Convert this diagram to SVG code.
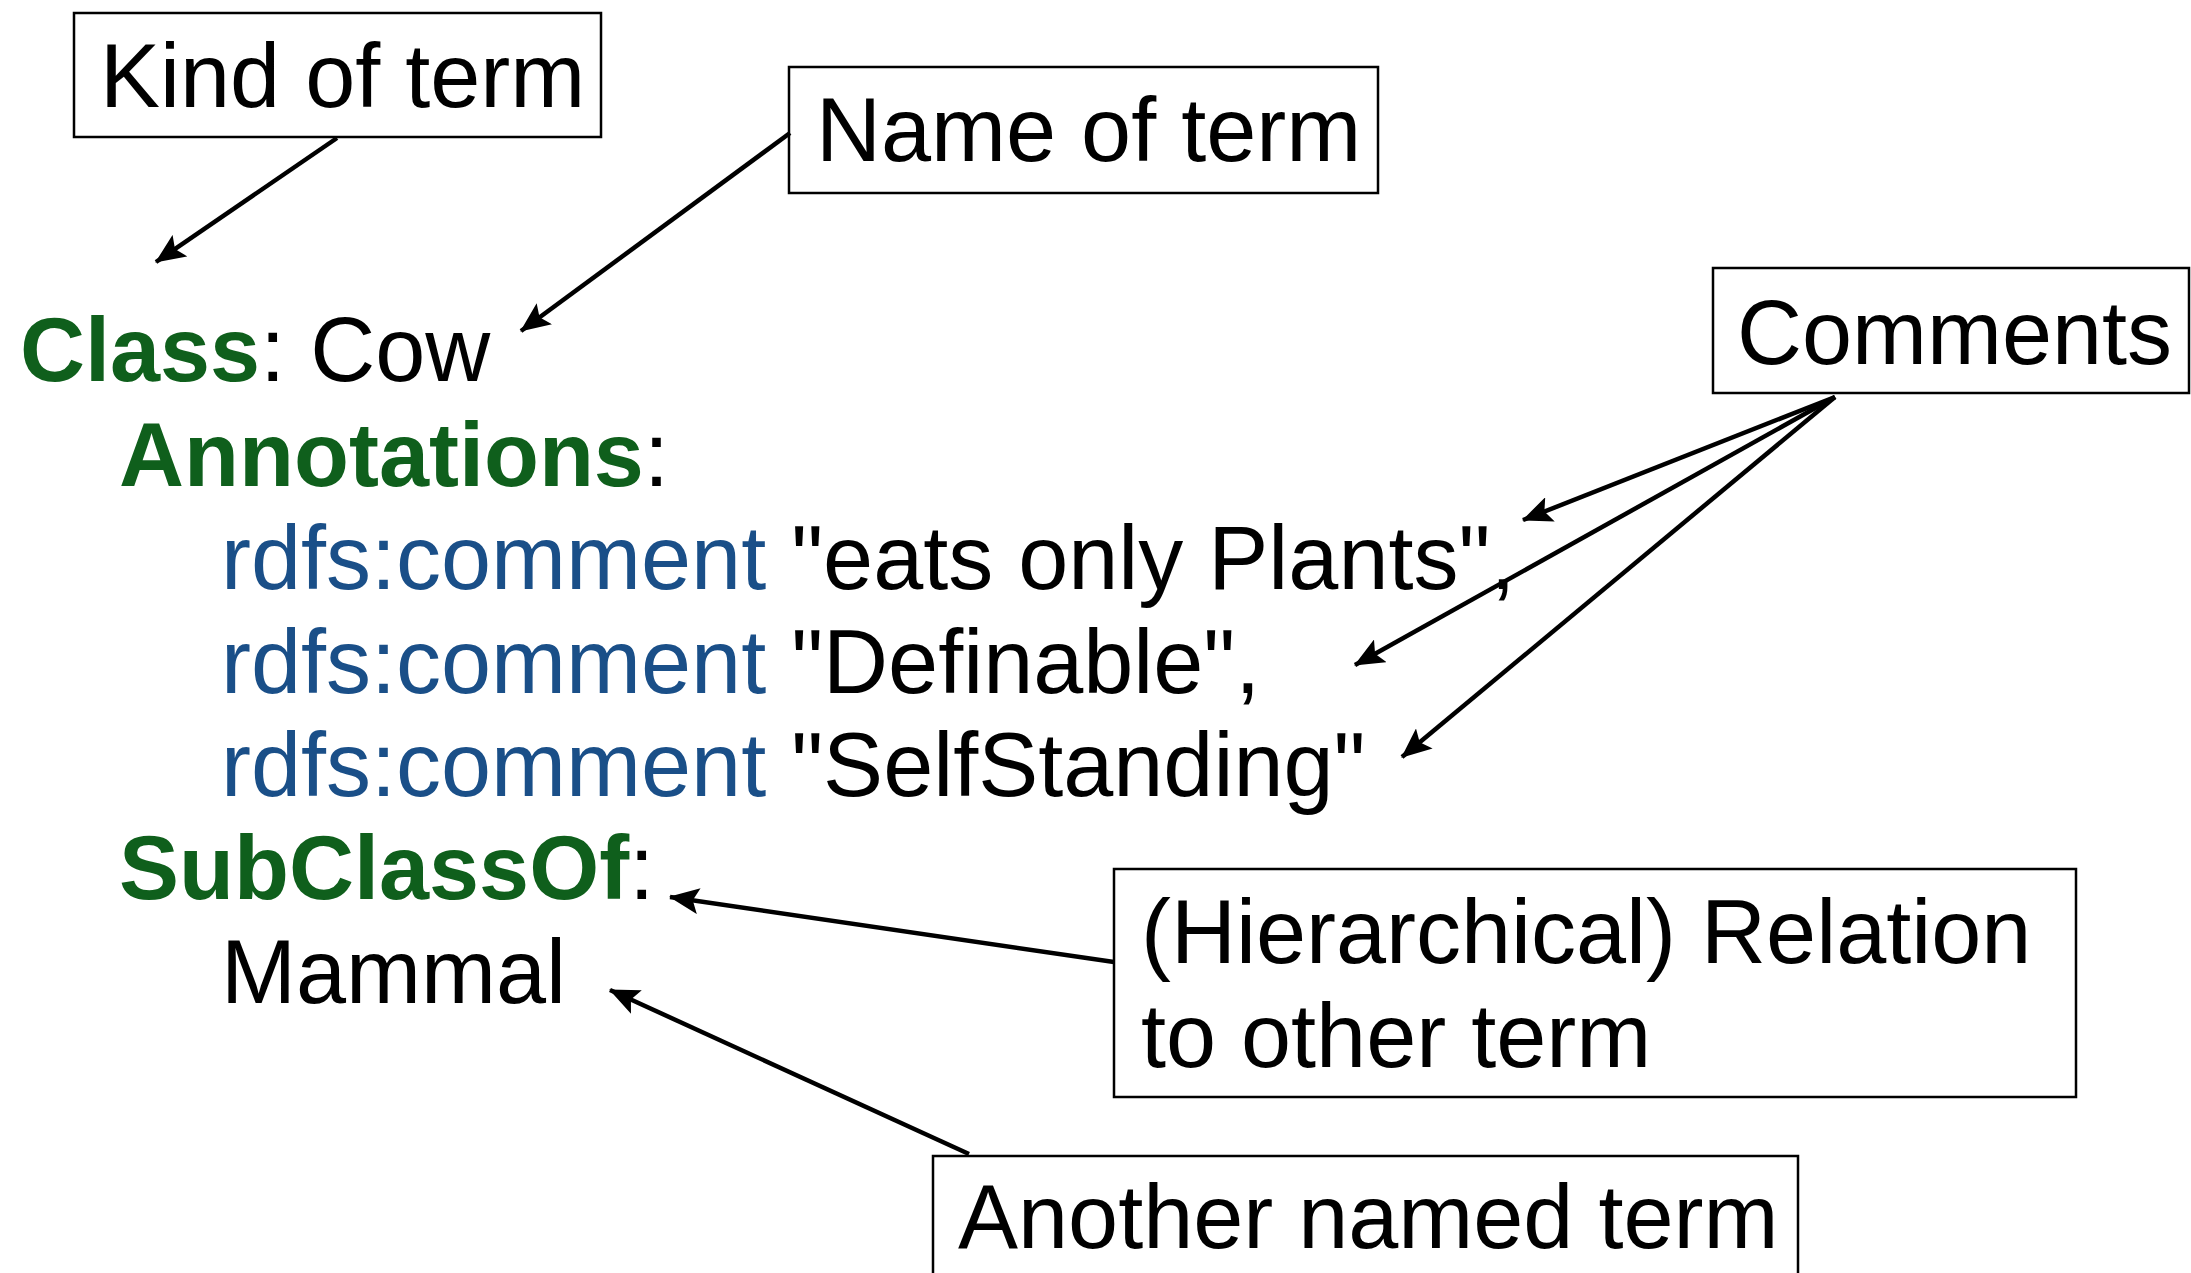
<svg xmlns="http://www.w3.org/2000/svg" width="2191" height="1273" viewBox="0 0 2191 1273">
  <style>
    text { font-family: "Liberation Sans", Arial, sans-serif; font-size: 90px; fill: #000; }
    .kw { font-weight: bold; fill: #0f5f1c; }
    .prop { fill: #1a4f88; }
    .box { fill: #fff; stroke: #000; stroke-width: 2.5; }
    .conn { fill: none; stroke: #000; stroke-width: 4.5; marker-end: url(#arrow); }
  </style>
  <defs>
    <marker id="arrow" viewBox="0 0 30 26" refX="29" refY="13" markerWidth="30" markerHeight="26" markerUnits="userSpaceOnUse" orient="auto">
      <path d="M0,0 L30,13 L0,26 L6,13 Z" fill="#000"/>
    </marker>
  </defs>

  <rect width="2191" height="1273" fill="#fff"/>

  <!-- Manchester-syntax class frame -->
  <g id="code">
    <text x="20" y="381"><tspan class="kw">Class</tspan>: Cow</text>
    <text x="119" y="486"><tspan class="kw">Annotations</tspan>:</text>
    <text x="221" y="589"><tspan class="prop">rdfs:comment</tspan> "eats only Plants",</text>
    <text x="221" y="693"><tspan class="prop">rdfs:comment</tspan> "Definable",</text>
    <text x="221" y="796"><tspan class="prop">rdfs:comment</tspan> "SelfStanding"</text>
    <text x="119" y="899"><tspan class="kw">SubClassOf</tspan>:</text>
    <text x="221" y="1003">Mammal</text>
  </g>

  <!-- callout boxes -->
  <g id="kind-of-term">
    <rect class="box" x="74" y="13" width="527" height="124"/>
    <text x="100" y="107">Kind of term</text>
  </g>
  <g id="name-of-term">
    <rect class="box" x="789" y="67" width="589" height="126"/>
    <text x="816" y="161">Name of term</text>
  </g>
  <g id="comments">
    <rect class="box" x="1713" y="268" width="476" height="125"/>
    <text x="1737" y="364">Comments</text>
  </g>
  <g id="relation">
    <rect class="box" x="1114" y="869" width="962" height="228"/>
    <text x="1141" y="963">(Hierarchical) Relation</text>
    <text x="1141" y="1067">to other term</text>
  </g>
  <g id="another-term">
    <rect class="box" x="933" y="1156" width="865" height="130"/>
    <text x="958" y="1248">Another named term</text>
  </g>

  <!-- connectors -->
  <g id="connectors">
    <line class="conn" x1="337" y1="138" x2="156" y2="262"/>
    <line class="conn" x1="790" y1="133" x2="521" y2="331"/>
    <line class="conn" x1="1835" y1="397" x2="1523" y2="520"/>
    <line class="conn" x1="1835" y1="397" x2="1355" y2="665"/>
    <line class="conn" x1="1835" y1="397" x2="1402" y2="757"/>
    <line class="conn" x1="1114" y1="962" x2="670" y2="897"/>
    <line class="conn" x1="969" y1="1154" x2="610" y2="990"/>
  </g>
</svg>
